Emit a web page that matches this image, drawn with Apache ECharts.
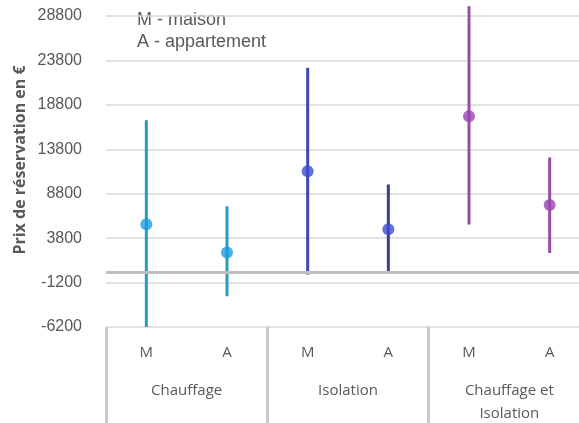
<!DOCTYPE html>
<html>
<head>
<meta charset="utf-8">
<script src="https://cdn.jsdelivr.net/npm/echarts@6/dist/echarts.min.js"></script>
<style>html,body{margin:0;padding:0;background:#fff}#c{width:579px;height:423px}</style>
</head>
<body>
<div id="c"></div>
<script>
var subCats = ['M', 'A', 'M', 'A', 'M', 'A'];
var groups = ['Chauffage', 'Isolation', 'Chauffage et\nIsolation'];
var means = [5370, 2180, 11330, 4800, 17530, 7540];
var lows = [-6350, -2740, -300, -190, 5330, 2130];
var highs = [17080, 7390, 22970, 9840, 29900, 12880];
var yTicks = { min: -6200, max: 28800, interval: 5000 };
var pointColors = ['#1b9de2', '#1b9de2', '#3f4bcf', '#3f4bcf', '#9b45b0', '#9b45b0'];
var barColors = ['#2a9bc0', '#2a9bc0', '#3b4ab8', '#3a3f90', '#9b4aa6', '#9b4aa6'];

var chart = echarts.init(document.getElementById('c'), null, { renderer: 'canvas' });

var errData = subCats.map(function (c, i) { return [i, lows[i], highs[i]]; });
var ptData = subCats.map(function (c, i) {
  return { value: [i, means[i]], itemStyle: { color: pointColors[i] } };
});

chart.setOption({
  animation: false,
  backgroundColor: '#ffffff',
  grid: { left: 106, width: 484, top: 16, height: 311, containLabel: false, outerBoundsMode: 'none' },
  graphic: [
    {
      type: 'text', left: 137, top: 9,
      style: { text: 'M - maison\nA - appartement', fill: '#595959',
        font: '18px "Liberation Sans", Arial, sans-serif', lineHeight: 22 }
    },
    {
      type: 'text', x: 20, y: 160, rotation: Math.PI / 2,
      style: { text: 'Prix de réservation en €', fill: '#595959',
        font: 'bold 16px "Open Sans", "Noto Sans", sans-serif',
        align: 'center', verticalAlign: 'middle' }
    }
  ],
  xAxis: [
    {
      type: 'category', data: subCats, position: 'bottom',
      axisLine: { show: false }, axisTick: { show: false },
      axisLabel: { margin: 18, color: '#595959', fontSize: 15,
        fontFamily: '"Open Sans", "Noto Sans", sans-serif' },
      splitLine: { show: false }
    },
    {
      type: 'category', data: groups, position: 'bottom',
      axisLine: { show: false },
      axisTick: { show: true, length: 100, interval: 0,
        lineStyle: { color: '#c9c9c9', width: 3 } },
      axisLabel: { margin: 52, color: '#595959', fontSize: 15, lineHeight: 23,
        interval: 0, fontFamily: '"Open Sans", "Noto Sans", sans-serif' },
      splitLine: { show: false }
    }
  ],
  yAxis: {
    type: 'value', min: yTicks.min, max: yTicks.max, interval: yTicks.interval,
    axisLine: { show: false }, axisTick: { show: false },
    axisLabel: { margin: 24, color: '#595959', fontSize: 16,
      fontFamily: '"Liberation Sans", Arial, sans-serif',
      formatter: function (v) { return String(v); } },
    splitLine: { lineStyle: { color: '#d9d9d9', width: 1.5 } }
  },
  series: [
    {
      type: 'line', data: [], xAxisIndex: 0, silent: true,
      markLine: {
        silent: true, symbol: 'none', label: { show: false },
        lineStyle: { color: '#bfbfbf', width: 3, type: 'solid' },
        data: [{ yAxis: 0 }]
      }
    },
    {
      type: 'custom', xAxisIndex: 0, data: errData, clip: false, z: 3,
      renderItem: function (params, api) {
        var i = api.value(0);
        var p1 = api.coord([i, api.value(1)]);
        var p2 = api.coord([i, api.value(2)]);
        var bottom = api.coord([i, yTicks.min])[1];
        var y1 = Math.min(p1[1], bottom);
        return {
          type: 'line',
          shape: { x1: p1[0], y1: y1, x2: p2[0], y2: p2[1] },
          style: { stroke: barColors[params.dataIndex], lineWidth: 3 }
        };
      }
    },
    {
      type: 'scatter', xAxisIndex: 0, data: ptData, symbolSize: 12, z: 4,
      symbol: 'circle'
    }
  ]
});
</script>
</body>
</html>
